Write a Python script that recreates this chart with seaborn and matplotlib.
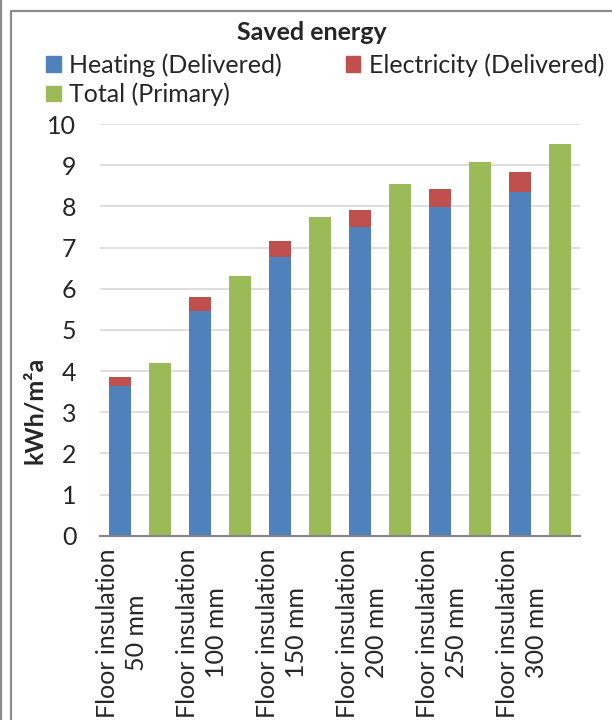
import numpy as np
import pandas as pd
import matplotlib
matplotlib.use("Agg")
import matplotlib.pyplot as plt
from matplotlib.patches import Patch
from matplotlib.lines import Line2D
import seaborn as sns

# Saved energy per floor-insulation thickness (kWh/m²a)
categories = ["Floor insulation\n50 mm", "Floor insulation\n100 mm",
              "Floor insulation\n150 mm", "Floor insulation\n200 mm",
              "Floor insulation\n250 mm", "Floor insulation\n300 mm"]
heating_delivered = [3.64, 5.47, 6.78, 7.49, 7.98, 8.36]
electricity_delivered = [0.22, 0.33, 0.38, 0.42, 0.44, 0.47]
total_primary = [4.20, 6.32, 7.75, 8.54, 9.08, 9.51]
y_ticks = [0, 1, 2, 3, 4, 5, 6, 7, 8, 9, 10]

BLUE, RED, GREEN = "#4F81BD", "#C0504D", "#9BBB59"
GRID, AXIS, FRAME = "#D9D9D9", "#868686", "#8C8C8C"

sns.set_style("white")
plt.rcParams["font.family"] = ["Lato", "DejaVu Sans"]
FS = 18

# Two slots per category: delivered (stacked) then primary total
n = len(categories)
slots = list(range(2 * n))
delivered = pd.DataFrame({
    "slot": [2 * i for i in range(n)],
    "heating": heating_delivered,
    "electricity": electricity_delivered,
})
delivered["stack_top"] = delivered["heating"] + delivered["electricity"]
primary = pd.DataFrame({"slot": [2 * i + 1 for i in range(n)], "total": total_primary})

fig = plt.figure(figsize=(6.12, 7.2), dpi=100)
ax = fig.add_axes([100 / 612, 1 - 535.7 / 720, 480 / 612, 411.7 / 720])

bar_kw = dict(order=slots, width=0.55, errorbar=None, saturation=1, ax=ax, linewidth=0)
sns.barplot(data=delivered, x="slot", y="stack_top", color=RED, **bar_kw)
sns.barplot(data=delivered, x="slot", y="heating", color=BLUE, **bar_kw)
sns.barplot(data=primary, x="slot", y="total", color=GREEN, **bar_kw)

ax.set_xlim(-0.5, 2 * n - 0.5)
ax.set_ylim(0, 10)
ax.set_xlabel("")
ax.set_ylabel("")

# category boundaries as major ticks, labels on minor ticks
ax.set_xticks([2 * i - 0.5 for i in range(n + 1)])
ax.set_xticklabels([""] * (n + 1))
ax.set_xticks([2 * i + 0.05 for i in range(n)], minor=True)
ax.set_xticklabels(categories, minor=True, rotation=90, ha="center", va="top",
                   multialignment="center", fontsize=FS, linespacing=1.3)
ax.tick_params(axis="x", which="major", direction="inout", length=11, width=1.5, color=AXIS)
ax.tick_params(axis="x", which="minor", length=0, pad=9)

ax.set_yticks(y_ticks)
ax.set_yticklabels([str(v) for v in y_ticks], fontsize=FS)
ax.tick_params(axis="y", length=0, pad=17)

ax.yaxis.grid(True, color=GRID, linewidth=1.2)
ax.set_axisbelow(True)
for side in ("left", "right", "top"):
    ax.spines[side].set_visible(False)
ax.spines["bottom"].set_color(AXIS)
ax.spines["bottom"].set_linewidth(1.5)

fig.text(312 / 612, 1 - 33 / 720, "Saved energy", ha="center", va="center",
         fontsize=FS, fontweight="bold")
fig.text(35 / 612, 1 - 410 / 720, "kWh/m²a", rotation=90, ha="center", va="center",
         fontsize=FS, fontweight="bold")

handles = [Patch(color=BLUE, label="Heating (Delivered)"),
           Patch(color=GREEN, label="Total (Primary)"),
           Patch(color=RED, label="Electricity (Delivered)")]
fig.legend(handles=handles, ncol=2, loc="upper left",
           bbox_to_anchor=(46 / 612, 1 - 53 / 720), frameon=False, fontsize=FS,
           handlelength=0.58, handleheight=0.58, handletextpad=0.35,
           columnspacing=2.55, labelspacing=0.25, borderpad=0, borderaxespad=0)

# chart frame
for xs, ys in (([1, 1], [0, 720]), ([11, 11], [11, 720]), ([11, 612], [11, 11])):
    fig.add_artist(Line2D([x / 612 for x in xs], [1 - y / 720 for y in ys],
                          transform=fig.transFigure, color=FRAME, linewidth=1.6))

fig.savefig("out.png", dpi=100)
